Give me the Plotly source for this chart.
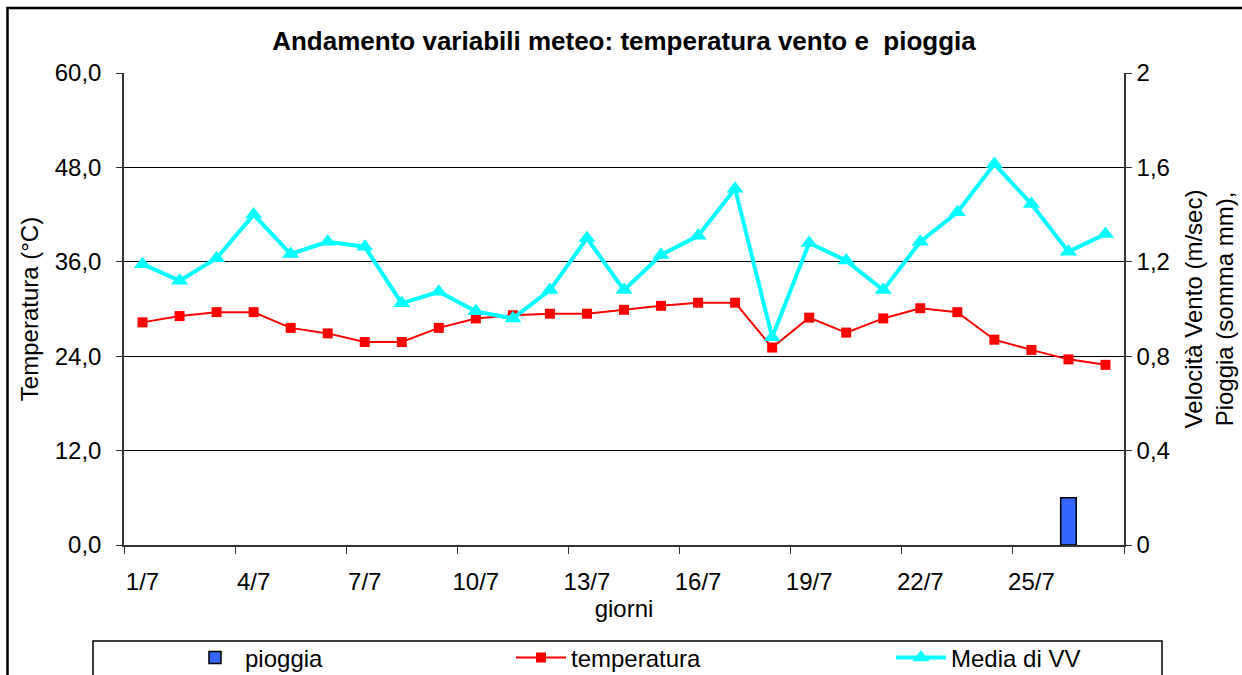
import plotly.graph_objects as go

days = ["1/7", "2/7", "3/7", "4/7", "5/7", "6/7", "7/7", "8/7", "9/7", "10/7",
        "11/7", "12/7", "13/7", "14/7", "15/7", "16/7", "17/7", "18/7", "19/7", "20/7",
        "21/7", "22/7", "23/7", "24/7", "25/7", "26/7", "27/7"]
temperatura = [28.3, 29.1, 29.6, 29.6, 27.6, 26.9, 25.8, 25.8, 27.6, 28.8,
               29.2, 29.4, 29.4, 29.9, 30.4, 30.8, 30.8, 25.1, 28.9, 27.0,
               28.8, 30.1, 29.6, 26.1, 24.8, 23.6, 22.9]
vento = [1.19, 1.12, 1.215, 1.40, 1.233, 1.285, 1.264, 1.024, 1.073, 0.99,
         0.96, 1.08, 1.30, 1.08, 1.229, 1.31, 1.51, 0.88, 1.28, 1.205,
         1.08, 1.285, 1.41, 1.614, 1.445, 1.243, 1.318]
pioggia = [0, 0, 0, 0, 0, 0, 0, 0, 0, 0,
           0, 0, 0, 0, 0, 0, 0, 0, 0, 0,
           0, 0, 0, 0, 0, 0.2, 0]

x = list(range(len(days)))
step = 3
FONT = "Liberation Sans, Arial, sans-serif"
FS = 24

fig = go.Figure()
fig.add_trace(go.Bar(
    x=x, y=[v if v else None for v in pioggia], name="pioggia", yaxis="y2", width=0.42,
    marker=dict(color="#3366FF", line=dict(color="black", width=1.5)),
    legend="legend2",
))
fig.add_trace(go.Scatter(
    x=x, y=temperatura, name="temperatura", mode="lines+markers",
    line=dict(color="#FF0000", width=2),
    marker=dict(symbol="square", size=10, color="#FF0000"),
    legend="legend3",
))
fig.add_trace(go.Scatter(
    x=x, y=vento, name="Media di VV", mode="lines+markers", yaxis="y2",
    line=dict(color="#00FFFF", width=4),
    marker=dict(symbol="triangle-up", size=15, color="#00FFFF"),
    legend="legend4",
))

n = len(days)
boundaries = [i - 0.5 for i in range(0, n + 1, step)]

px_l, px_r, px_t, px_b = 124, 1124, 73, 545
W, H = 1242, 675


def px2x(p):
    return (p - px_l) / (px_r - px_l)


def py2y(p):
    return (px_b - p) / (px_b - px_t)


legend_common = dict(orientation="h", yanchor="middle", y=py2y(658), xanchor="left",
                     bgcolor="rgba(0,0,0,0)", font=dict(family=FONT, size=FS, color="black"),
                     borderwidth=0, itemwidth=50)

fig.update_layout(
    width=W, height=H,
    margin=dict(l=px_l, r=W - px_r, t=px_t, b=H - px_b, autoexpand=False),
    paper_bgcolor="white", plot_bgcolor="white",
    separators=",.",
    font=dict(family=FONT, size=FS, color="black"),
    showlegend=True,
    title=dict(text="<b>Andamento variabili meteo: temperatura vento e  pioggia</b>",
               x=0.5, xref="paper", y=1 - 41 / H, yanchor="middle",
               font=dict(family=FONT, size=26, color="black")),
    xaxis=dict(
        range=[-0.5, n - 0.5], tickvals=x[::step], ticktext=days[::step],
        ticks="", showgrid=False, zeroline=False,
        showline=True, linecolor="#333333", linewidth=2,
        tickfont=dict(size=FS), ticklabelstandoff=14,
        minor=dict(tickvals=boundaries, ticks="outside", ticklen=7, tickcolor="#333333",
                   tickwidth=1, showgrid=False),
        title=dict(text="giorni", standoff=0, font=dict(size=FS)),
    ),
    yaxis=dict(
        range=[0, 60], dtick=12, tick0=0, tickformat=".1f",
        showgrid=True, gridcolor="black", gridwidth=1, zeroline=False,
        showline=True, linecolor="#333333", linewidth=1.5,
        ticks="outside", ticklen=6, tickcolor="#333333",
        tickfont=dict(size=FS), ticklabelstandoff=10,
        title=dict(text="Temperatura (°C)", standoff=9, font=dict(size=FS)),
    ),
    yaxis2=dict(
        range=[0, 2], dtick=0.4, tick0=0, overlaying="y", side="right",
        showgrid=False, zeroline=False,
        showline=True, linecolor="#333333", linewidth=1.5,
        ticks="outside", ticklen=6, tickcolor="#333333",
        tickfont=dict(size=FS),
        title=dict(text="Velocità Vento (m/sec)<br>Pioggia (somma mm),", standoff=16,
                   font=dict(size=FS)),
    ),
    legend2=dict(legend_common, x=px2x(185)),
    legend3=dict(legend_common, x=px2x(511)),
    legend4=dict(legend_common, x=px2x(891)),
    shapes=[
        dict(type="rect", xref="paper", yref="paper",
             x0=px2x(93), x1=px2x(1162), y0=py2y(700), y1=py2y(641),
             line=dict(color="black", width=1.5), fillcolor="rgba(0,0,0,0)", layer="below"),
        dict(type="rect", xref="paper", yref="paper",
             x0=px2x(7.5), x1=px2x(1260), y0=py2y(700), y1=py2y(8),
             line=dict(color="black", width=2.5), fillcolor="rgba(0,0,0,0)", layer="below"),
    ],
)

fig.write_html("out.html",
               config={"displayModeBar": False},
               post_script="document.body.style.margin='0px';document.body.style.padding='0px';")
